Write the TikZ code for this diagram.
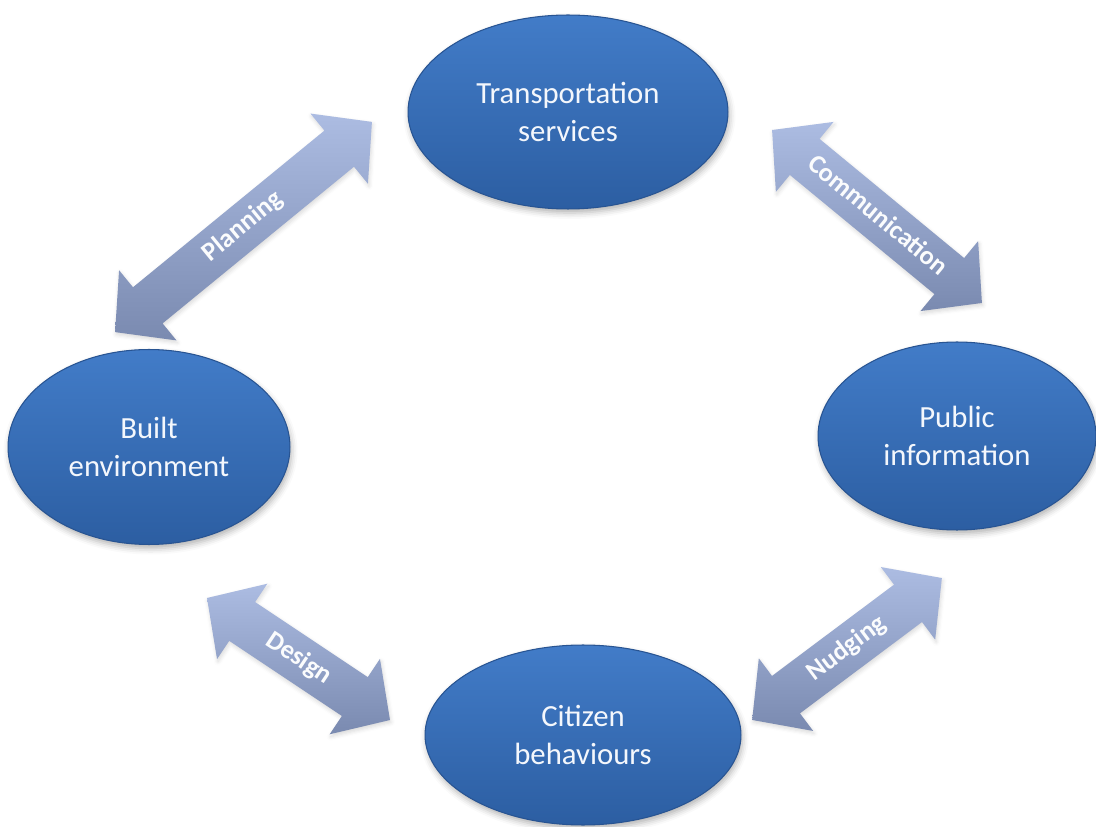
\documentclass[tikz,border=0pt]{standalone}
\usepackage{fontspec}
\setmainfont{Carlito}
\usetikzlibrary{shapes.geometric,shapes.arrows,shadows.blur}

\definecolor{topicblue}{RGB}{66,124,200}
\definecolor{topicdark}{RGB}{44,94,162}
\definecolor{topicline}{RGB}{40,84,146}
\definecolor{linklight}{RGB}{172,188,226}
\definecolor{linkdark}{RGB}{122,138,176}

\tikzset{
    topic/.style={ellipse, draw=topicline, line width=0.6pt,
        top color=topicblue, bottom color=topicdark,
        text=white!94!topicblue, align=center,
        font=\fontsize{17.5}{22}\selectfont,
        blur shadow={shadow xshift=0.03cm, shadow yshift=-0.08cm,
            shadow blur radius=0.12cm, shadow opacity=30}},
    link/.style={double arrow, double arrow head extend=0.44cm,
        double arrow tip angle=94,
        inner ysep=0.23cm, text height=0.36cm, text depth=0.1cm,
        top color=linklight, bottom color=linkdark,
        text=white!95!linklight, font=\fontsize{15}{18}\selectfont\bfseries,
        blur shadow={shadow xshift=0.02cm, shadow yshift=-0.05cm,
            shadow blur radius=0.08cm, shadow opacity=15}}
}

\begin{document}
\begin{tikzpicture}[x=0.02cm, y=-0.02cm]
    \useasboundingbox (0,0) rectangle (1096,827);

    % the four topics
    \node[topic, minimum width=6.4cm, minimum height=3.88cm] (transport) at (568,112) {Transportation\\services};
    \node[topic, minimum width=5.56cm, minimum height=3.76cm] (public) at (957,436) {Public\\information};
    \node[topic, minimum width=5.64cm, minimum height=3.9cm] (built) at (149,447) {Built\\environment};
    \node[topic, minimum width=6.32cm, minimum height=3.6cm] (citizen) at (583,735) {Citizen\\behaviours};

    % two-way links between them
    \foreach \lbl/\x/\y/\ang/\len in {Planning/243.5/227/39.3/6.64,
        Communication/877/216.5/-39.5/5.44,
        Design/298.5/659/-33.7/4.4,
        Nudging/847/649/36.8/4.74}
    {\node[link, rotate=\ang, minimum height=\len cm] (\lbl) at (\x,\y) {\lbl}; }
\end{tikzpicture}
\end{document}
